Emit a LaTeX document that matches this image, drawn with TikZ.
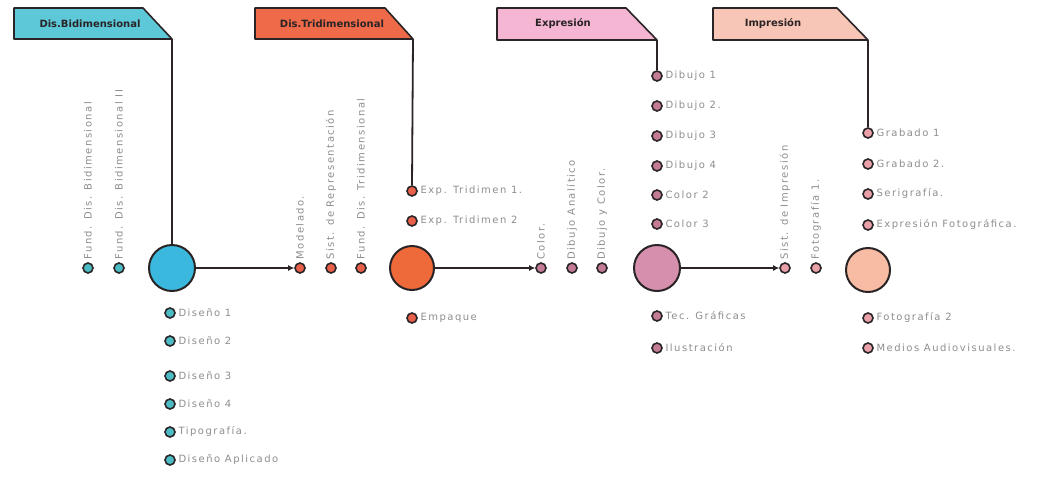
\documentclass[tikz,border=0pt]{standalone}
\usepackage{fontspec}
\newfontfamily\hand[LetterSpace=15]{DejaVu Sans}
\newfontfamily\tabfont{DejaVu Sans}
\usetikzlibrary{arrows.meta}
\definecolor{dk}{HTML}{2A2426}
\definecolor{txt}{HTML}{8E8E8E}
\definecolor{tabA}{HTML}{5CC8D8}
\definecolor{tabB}{HTML}{EE6A48}
\definecolor{tabC}{HTML}{F4B6D2}
\definecolor{tabD}{HTML}{F8C6B6}
\definecolor{bigA}{HTML}{3AB8DE}
\definecolor{bigB}{HTML}{EE6A3A}
\definecolor{bigC}{HTML}{D690AE}
\definecolor{bigD}{HTML}{F8BCA4}
\definecolor{smA}{HTML}{4CBCC4}
\definecolor{smB}{HTML}{E8604A}
\definecolor{smC}{HTML}{C47C96}
\definecolor{smD}{HTML}{EAA0A8}
\begin{document}
\begin{tikzpicture}[x=1pt,y=-1pt,
  dot/.style={circle,draw=dk,line width=1.6pt,minimum size=10pt,inner sep=0pt},
  big/.style={circle,draw=dk,line width=2pt,minimum size=46pt,inner sep=0pt},
  lab/.style={font=\hand\fontsize{10}{11}\selectfont,text=txt,inner sep=2.5pt},
  vlab/.style={lab,rotate=90,anchor=west},
  hlab/.style={lab,anchor=west},
  tabshape/.style={draw=dk,line width=1.6pt,line join=round},
  tabtext/.style={font=\tabfont\bfseries\fontsize{10}{11}\selectfont,text=dk,inner sep=1pt},
  conn/.style={draw=dk,line width=1.8pt},
  arr/.style={conn,-{Latex[length=6pt,width=6pt]}}]
\useasboundingbox (0,0) rectangle (1052,480);
\fill[white] (0,0) rectangle (1052,480);

% ---------- tabs ----------
\filldraw[tabshape,fill=tabA] (14,8) -- (143,8) -- (172,39) -- (14,39) -- cycle;
\node[tabtext] (tA) at (90,24) {Dis.Bidimensional};
\coordinate (cA) at (172,39);
\filldraw[tabshape,fill=tabB] (255,8) -- (385,8) -- (413,39) -- (255,39) -- cycle;
\node[tabtext] (tB) at (332,24) {Dis.Tridimensional};
\coordinate (cB) at (413,39);
\filldraw[tabshape,fill=tabC] (497,8) -- (626,8) -- (657,40) -- (497,40) -- cycle;
\node[tabtext] (tC) at (563,24) {Expresión};
\coordinate (cC) at (657,40);
\filldraw[tabshape,fill=tabD] (713,8) -- (837,8) -- (868,40) -- (713,40) -- cycle;
\node[tabtext] (tD) at (773,24) {Impresión};
\coordinate (cD) at (868,40);

% ---------- big circles ----------
\node[big,fill=bigA] (A) at (172,268) {};
\node[big,fill=bigB,minimum size=44pt] (B) at (412,268) {};
\node[big,fill=bigC] (C) at (657,268) {};
\node[big,fill=bigD,minimum size=44pt] (D) at (868,270) {};

% ---------- group A ----------
\node[dot,fill=smA] (a1) at (88,268) {};
\node[vlab] (a1l) at (a1.north) {Fund. Dis. Bidimensional};
\node[dot,fill=smA] (a2) at (119,268) {};
\node[vlab] (a2l) at (a2.north) {Fund. Dis. Bidimensional II};
\node[dot,fill=smA] (a3) at (170,313) {};
\node[hlab] (a3l) at (a3.east) {Diseño 1};
\node[dot,fill=smA] (a4) at (170,341) {};
\node[hlab] (a4l) at (a4.east) {Diseño 2};
\node[dot,fill=smA] (a5) at (170,376) {};
\node[hlab] (a5l) at (a5.east) {Diseño 3};
\node[dot,fill=smA] (a6) at (170,404) {};
\node[hlab] (a6l) at (a6.east) {Diseño 4};
\node[dot,fill=smA] (a7) at (170,432) {};
\node[hlab] (a7l) at (a7.east) {Tipografía.};
\node[dot,fill=smA] (a8) at (170,460) {};
\node[hlab] (a8l) at (a8.east) {Diseño Aplicado};

% ---------- group B ----------
\node[dot,fill=smB] (b1) at (300,268) {};
\node[vlab] (b1l) at (b1.north) {Modelado.};
\node[dot,fill=smB] (b2) at (331,268) {};
\node[vlab] (b2l) at (b2.north) {Sist. de Representación};
\node[dot,fill=smB] (b3) at (361,268) {};
\node[vlab] (b3l) at (b3.north) {Fund. Dis. Tridimensional};
\node[dot,fill=smB] (b4) at (412,191) {};
\node[hlab] (b4l) at (b4.east) {Exp. Tridimen 1.};
\node[dot,fill=smB] (b5) at (412,221) {};
\node[hlab] (b5l) at (b5.east) {Exp. Tridimen 2};
\node[dot,fill=smB] (b6) at (412,318) {};
\node[hlab] (b6l) at (b6.east) {Empaque};

% ---------- group C ----------
\node[dot,fill=smC] (c1) at (541,268) {};
\node[vlab] (c1l) at (c1.north) {Color.};
\node[dot,fill=smC] (c2) at (572,268) {};
\node[vlab] (c2l) at (c2.north) {Dibujo Analítico};
\node[dot,fill=smC] (c3) at (602,268) {};
\node[vlab] (c3l) at (c3.north) {Dibujo y Color.};
\node[dot,fill=smC] (c4) at (657,76) {};
\node[hlab] (c4l) at (c4.east) {Dibujo 1};
\node[dot,fill=smC] (c5) at (657,106) {};
\node[hlab] (c5l) at (c5.east) {Dibujo 2.};
\node[dot,fill=smC] (c6) at (657,136) {};
\node[hlab] (c6l) at (c6.east) {Dibujo 3};
\node[dot,fill=smC] (c7) at (657,166) {};
\node[hlab] (c7l) at (c7.east) {Dibujo 4};
\node[dot,fill=smC] (c8) at (657,195) {};
\node[hlab] (c8l) at (c8.east) {Color 2};
\node[dot,fill=smC] (c9) at (657,224) {};
\node[hlab] (c9l) at (c9.east) {Color 3};
\node[dot,fill=smC] (c10) at (657,316) {};
\node[hlab] (c10l) at (c10.east) {Tec. Gráficas};
\node[dot,fill=smC] (c11) at (657,348) {};
\node[hlab] (c11l) at (c11.east) {Ilustración};

% ---------- group D ----------
\node[dot,fill=smD] (d1) at (785,268) {};
\node[vlab] (d1l) at (d1.north) {Sist. de Impresión};
\node[dot,fill=smD] (d2) at (816,268) {};
\node[vlab] (d2l) at (d2.north) {Fotografía 1.};
\node[dot,fill=smD] (d3) at (868,133) {};
\node[hlab] (d3l) at (d3.east) {Grabado 1};
\node[dot,fill=smD] (d4) at (868,164) {};
\node[hlab] (d4l) at (d4.east) {Grabado 2.};
\node[dot,fill=smD] (d5) at (868,194) {};
\node[hlab] (d5l) at (d5.east) {Serigrafía.};
\node[dot,fill=smD] (d6) at (868,225) {};
\node[hlab] (d6l) at (d6.east) {Expresión Fotográfica.};
\node[dot,fill=smD] (d7) at (868,318) {};
\node[hlab] (d7l) at (d7.east) {Fotografía 2};
\node[dot,fill=smD] (d8) at (868,348) {};
\node[hlab] (d8l) at (d8.east) {Medios Audiovisuales.};

% ---------- connectors ----------
\draw[conn] (cA) -- (A.north);
\draw[conn] (cB) -- (b4.north);
\draw[conn] (cC) -- (c4.north);
\draw[conn] (cD) -- (d3.north);
\draw[arr] (A.east) -- (b1.west);
\draw[arr] (B.east) -- (c1.west);
\draw[arr] (C.east) -- (d1.west);
\end{tikzpicture}
\end{document}
